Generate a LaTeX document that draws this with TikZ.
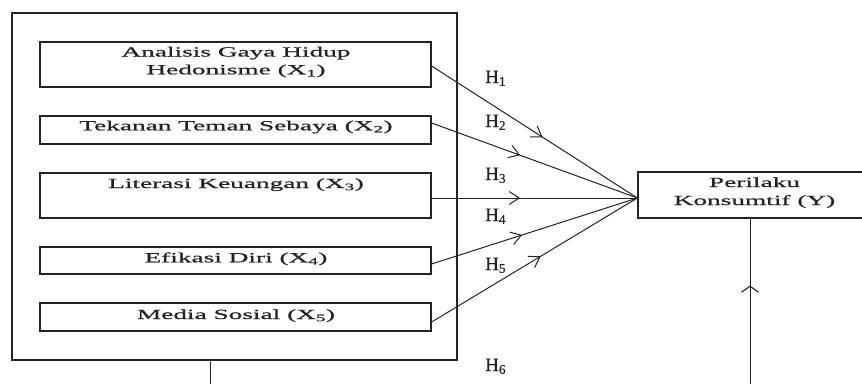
\documentclass[tikz,border=0pt]{standalone}
\usepackage{fontspec}
\setmainfont{Liberation Serif}
\newfontfamily\boxfont[FakeStretch=1.95,FakeBold=0.9]{Liberation Serif}
\newfontfamily\labfont[FakeBold=0.6]{Liberation Serif}
\usetikzlibrary{arrows.meta,decorations.markings}
\definecolor{ink}{RGB}{35,35,35}
\begin{document}
\begin{tikzpicture}[x=1pt,y=-1pt,
  outerbox/.style={draw=ink, line width=1.5pt, inner sep=0pt, minimum width=445pt, minimum height=347pt},
  varbox/.style={draw=ink, line width=1.2pt, inner sep=0pt, minimum width=391pt},
  ybox/.style={draw=ink, line width=1.2pt, inner sep=0pt, minimum width=234pt, minimum height=46pt},
  boxtext/.style={font=\boxfont\fontsize{14}{18}\selectfont, text=ink, anchor=base, inner sep=0pt},
  hlab/.style={font=\labfont\fontsize{19}{20}\selectfont, text=ink, anchor=base west, inner sep=0pt},
  link/.style={draw=ink, line width=1pt},
  midarrow/.style={postaction={decorate}, decoration={markings, mark=at position #1 with {\arrow{Straight Barb[length=10pt,width=13pt,line width=1pt]}}}},
  uparrow/.style={postaction={decorate}, decoration={markings, mark=at position #1 with {\arrow{Straight Barb[length=6pt,width=17pt,line width=1.1pt]}}}}
]
\useasboundingbox (0,0) rectangle (862,383);
\clip (0,0) rectangle (862,383);

% outer frame
\node[outerbox] (outer) at (234.5,186.5) {};

% variable boxes
\node[varbox, minimum height=45pt] (x1) at (235.5,64.5) {};
\node[varbox, minimum height=28pt] (x2) at (235.5,130) {};
\node[varbox, minimum height=45pt] (x3) at (235.5,195.5) {};
\node[varbox, minimum height=27pt] (x4) at (235.5,260.5) {};
\node[varbox, minimum height=28pt] (x5) at (235.5,317) {};

\node[boxtext] (x1a) at (236,56.5) {Analisis Gaya Hidup};
\node[boxtext] (x1b) at (236,74.3) {Hedonisme (X\textsubscript{1})};
\node[boxtext] (x2t) at (236,130.3) {Tekanan Teman Sebaya (X\textsubscript{2})};
\node[boxtext] (x3t) at (236,188) {Literasi Keuangan (X\textsubscript{3})};
\node[boxtext] (x4t) at (236,262.3) {Efikasi Diri (X\textsubscript{4})};
\node[boxtext] (x5t) at (236,319) {Media Sosial (X\textsubscript{5})};

% dependent variable
\node[ybox] (y) at (755,195) {};
\node[boxtext] (ya) at (754.5,187) {Perilaku};
\node[boxtext] (yb) at (754.5,205) {Konsumtif (Y)};

% connectors
\coordinate (t) at ([yshift=-3pt]y.west);
\draw[link, midarrow=0.54] ([yshift=-1.5pt]x1.east) -- (t);
\draw[link, midarrow=0.43] ([yshift=7pt]x2.east) -- (t);
\draw[link, midarrow=0.43] ([yshift=-2.5pt]x3.east) -- (t);
\draw[link, midarrow=0.44] ([yshift=-3.5pt]x4.east) -- (t);
\draw[link, midarrow=0.53] ([yshift=-5pt]x5.east) -- (t);

\coordinate (b1) at (210,386);
\draw[link] ([xshift=-24.5pt]outer.south) -- (b1);
\coordinate (b2) at (750,386);
\draw[link, uparrow=0.60] (b2) -- ([xshift=-5pt]y.south);

% hypothesis labels
\node[hlab] (h1) at (485,83) {H\textsubscript{1}};
\node[hlab] (h2) at (485,127) {H\textsubscript{2}};
\node[hlab] (h3) at (485,180) {H\textsubscript{3}};
\node[hlab] (h4) at (485,221) {H\textsubscript{4}};
\node[hlab] (h5) at (485,270) {H\textsubscript{5}};
\node[hlab] (h6) at (485,371) {H\textsubscript{6}};
\end{tikzpicture}
\end{document}
